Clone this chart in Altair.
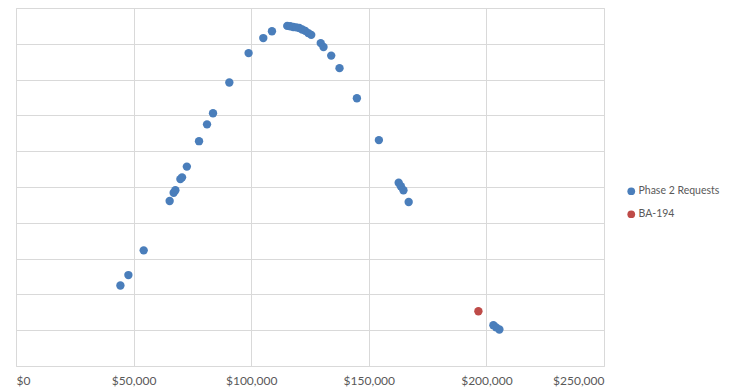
import altair as alt
import pandas as pd

# Phase 2 Requests (x = dollar amount, y = unlabeled relative value)
phase2_x = [44390, 47790, 54290, 65330, 67030, 67760, 69880, 70600, 72640, 77820,
            81220, 83770, 90700, 98890, 105140, 108830, 115330, 116600, 117880, 119150,
            120430, 121700, 122980, 124250, 125530, 129560, 130750, 134020, 137550, 144940,
            154290, 162700, 163630, 164730, 166950, 202970, 204120, 205520]
phase2_y = [2.25, 2.54, 3.23, 4.61, 4.84, 4.91, 5.22, 5.27, 5.57, 6.28,
            6.75, 7.06, 7.92, 8.74, 9.16, 9.35, 9.50, 9.49, 9.47, 9.46,
            9.44, 9.40, 9.36, 9.30, 9.25, 9.02, 8.91, 8.67, 8.32, 7.48,
            6.31, 5.12, 5.02, 4.91, 4.58, 1.14, 1.08, 1.02]
ba_x = [196600]
ba_y = [1.53]

series_names = ["Phase 2 Requests", "BA-194"]
series_colors = ["#4A7EBB", "#BE4B48"]
x_ticks = [0, 50000, 100000, 150000, 200000, 250000]

df = pd.concat([
    pd.DataFrame({"amount": phase2_x, "value": phase2_y, "series": series_names[0]}),
    pd.DataFrame({"amount": ba_x, "value": ba_y, "series": series_names[1]}),
])

font = "Lato"

chart = alt.Chart(df).mark_circle(size=70, opacity=1).encode(
    x=alt.X("amount:Q",
            scale=alt.Scale(domain=[0, 250000], nice=False, zero=True),
            axis=alt.Axis(values=x_ticks, format="$,.0f", title=None, ticks=False,
                          domain=False, grid=True, gridColor="#D9D9D9",
                          labelColor="#595959", labelFont=font, labelFontSize=12,
                          labelPadding=9)),
    y=alt.Y("value:Q",
            scale=alt.Scale(domain=[0, 10], nice=False),
            axis=alt.Axis(values=list(range(0, 11)), labels=False, ticks=False,
                          domain=False, title=None, grid=True, gridColor="#D9D9D9")),
    color=alt.Color("series:N",
                    scale=alt.Scale(domain=series_names, range=series_colors),
                    legend=alt.Legend(title=None, orient="none", legendX=610, legendY=178,
                                      symbolType="circle", symbolSize=60,
                                      labelColor="#595959", labelFont=font,
                                      labelFontSize=10.5, rowPadding=12, labelOffset=2,
                                      labelLimit=200, symbolStrokeWidth=0)),
).properties(
    width=588,
    height=358,
    autosize=alt.AutoSizeParams(type="none"),
    padding={"left": 8, "top": 0, "right": 123, "bottom": 25},
).configure_view(
    stroke="#D9D9D9", strokeWidth=1
).configure(background="white")

chart.save("out.html", embed_options={"renderer": "svg", "actions": False})
